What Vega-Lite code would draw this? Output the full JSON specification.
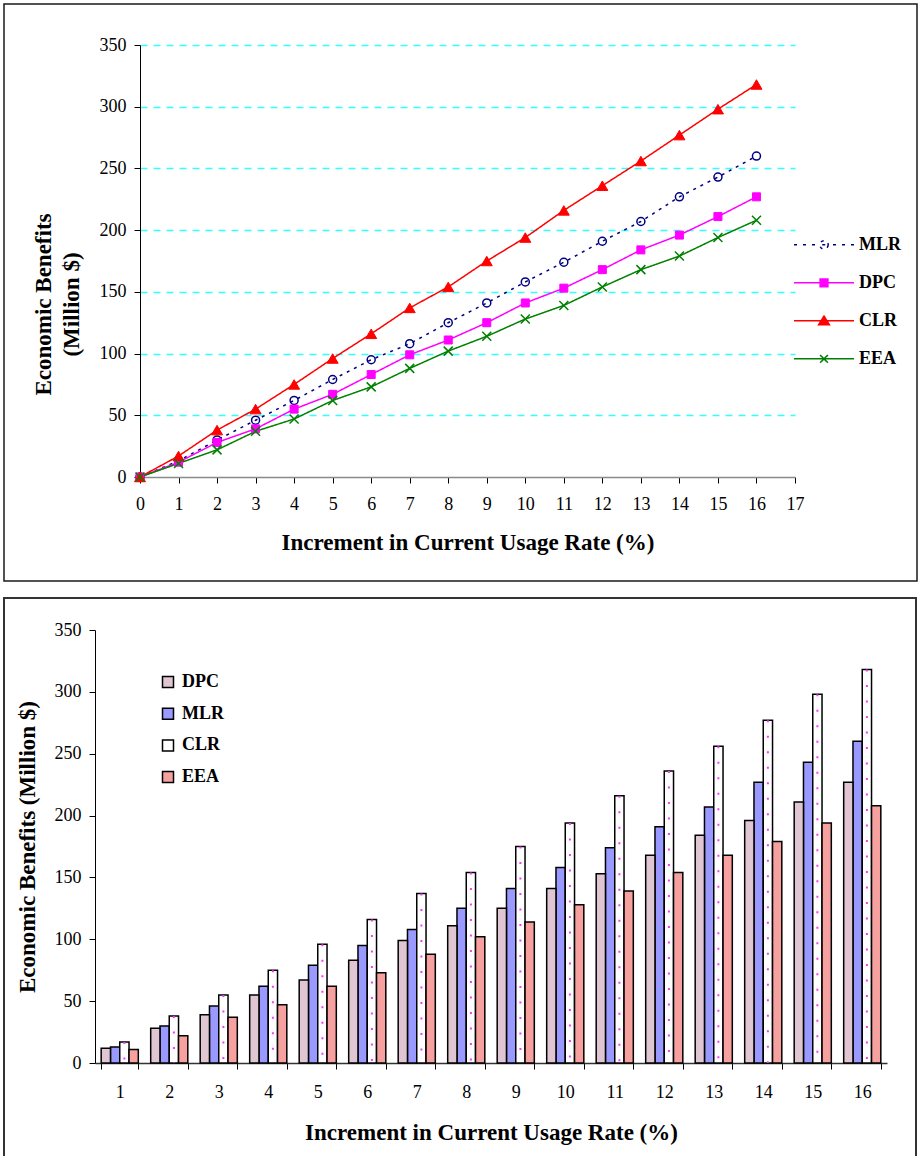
{
  "$schema": "https://vega.github.io/schema/vega-lite/v6.json",
  "padding": {"left": 3, "top": 3, "right": 0, "bottom": 0},
  "autosize": {"type": "pad"},
  "spacing": 15,
  "background": "white",
  "config": {
    "font": "Liberation Serif",
    "axis": {
      "labelFont": "Liberation Serif", "titleFont": "Liberation Serif",
      "labelFontSize": 18, "labelColor": "black", "titleColor": "black",
      "titleFontSize": 23, "titleFontWeight": "bold",
      "tickColor": "black", "domainColor": "black", "tickSize": 6, "labelPadding": 8
    },
    "legend": {"labelFont": "Liberation Serif", "labelFontSize": 18, "labelFontWeight": "bold", "labelColor": "black"}
  },
  "datasets": {
    "benefits": [
      {"x":0,"model":"MLR","value":0},{"x":1,"model":"MLR","value":13},{"x":2,"model":"MLR","value":30},{"x":3,"model":"MLR","value":46},{"x":4,"model":"MLR","value":62},{"x":5,"model":"MLR","value":79},{"x":6,"model":"MLR","value":95},{"x":7,"model":"MLR","value":108},{"x":8,"model":"MLR","value":125},{"x":9,"model":"MLR","value":141},{"x":10,"model":"MLR","value":158},{"x":11,"model":"MLR","value":174},{"x":12,"model":"MLR","value":191},{"x":13,"model":"MLR","value":207},{"x":14,"model":"MLR","value":227},{"x":15,"model":"MLR","value":243},{"x":16,"model":"MLR","value":260},
      {"x":0,"model":"DPC","value":0},{"x":1,"model":"DPC","value":12},{"x":2,"model":"DPC","value":28},{"x":3,"model":"DPC","value":39},{"x":4,"model":"DPC","value":55},{"x":5,"model":"DPC","value":67},{"x":6,"model":"DPC","value":83},{"x":7,"model":"DPC","value":99},{"x":8,"model":"DPC","value":111},{"x":9,"model":"DPC","value":125},{"x":10,"model":"DPC","value":141},{"x":11,"model":"DPC","value":153},{"x":12,"model":"DPC","value":168},{"x":13,"model":"DPC","value":184},{"x":14,"model":"DPC","value":196},{"x":15,"model":"DPC","value":211},{"x":16,"model":"DPC","value":227},
      {"x":0,"model":"CLR","value":0},{"x":1,"model":"CLR","value":17},{"x":2,"model":"CLR","value":38},{"x":3,"model":"CLR","value":55},{"x":4,"model":"CLR","value":75},{"x":5,"model":"CLR","value":96},{"x":6,"model":"CLR","value":116},{"x":7,"model":"CLR","value":137},{"x":8,"model":"CLR","value":154},{"x":9,"model":"CLR","value":175},{"x":10,"model":"CLR","value":194},{"x":11,"model":"CLR","value":216},{"x":12,"model":"CLR","value":236},{"x":13,"model":"CLR","value":256},{"x":14,"model":"CLR","value":277},{"x":15,"model":"CLR","value":298},{"x":16,"model":"CLR","value":318},
      {"x":0,"model":"EEA","value":0},{"x":1,"model":"EEA","value":11},{"x":2,"model":"EEA","value":22},{"x":3,"model":"EEA","value":37},{"x":4,"model":"EEA","value":47},{"x":5,"model":"EEA","value":62},{"x":6,"model":"EEA","value":73},{"x":7,"model":"EEA","value":88},{"x":8,"model":"EEA","value":102},{"x":9,"model":"EEA","value":114},{"x":10,"model":"EEA","value":128},{"x":11,"model":"EEA","value":139},{"x":12,"model":"EEA","value":154},{"x":13,"model":"EEA","value":168},{"x":14,"model":"EEA","value":179},{"x":15,"model":"EEA","value":194},{"x":16,"model":"EEA","value":208}
    ]
  },
  "resolve": {
    "scale": {"color": "independent", "fill": "independent", "strokeDash": "independent", "x": "independent", "y": "independent"},
    "legend": {"color": "independent", "fill": "independent"}
  },
  "vconcat": [
    {
      "width": 913,
      "height": 577,
      "view": {"stroke": "#1a1a1a", "strokeWidth": 1.5},
      "data": {"name": "benefits"},
      "encoding": {
        "x": {
          "field": "x", "type": "quantitative",
          "scale": {"domain": [0, 17], "range": [136, 791], "nice": false, "zero": false},
          "axis": {
            "values": [0,1,2,3,4,5,6,7,8,9,10,11,12,13,14,15,16,17],
            "format": "d",
            "title": "Increment in Current Usage Rate (%)",
            "offset": -104,
            "grid": false,
            "domainColor": "#8a8a8a", "domainWidth": 1.5,
            "tickSize": 6, "labelPadding": 12,
            "labelFlush": false, "labelOverlap": false,
            "titleX": 463.5, "titleY": 72, "titleBaseline": "alphabetic"
          }
        },
        "y": {
          "field": "value", "type": "quantitative",
          "scale": {"domain": [0, 350], "range": [473, 41], "nice": false},
          "axis": {
            "values": [0,50,100,150,200,250,300,350],
            "title": ["Economic Benefits", "(Million $)"],
            "offset": -136,
            "grid": true, "gridColor": "#33ffff", "gridDash": [7, 6], "gridWidth": 1.5,
            "gridOpacity": {"condition": {"test": "datum.value === 0", "value": 0}, "value": 1},
            "domainColor": "black", "domainWidth": 1,
            "tickSize": 6, "labelPadding": 8,
            "titleX": -97, "titleY": 300, "titleBaseline": "middle", "titleAlign": "center", "titleLineHeight": 28
          }
        }
      },
      "layer": [
        {
          "mark": {"type": "line", "strokeWidth": 1.5},
          "encoding": {
            "color": {
              "field": "model", "type": "nominal",
              "scale": {"domain": ["MLR", "DPC", "CLR", "EEA"], "range": ["#000080", "#ff00ff", "#ff0000", "#008000"]},
              "legend": {
                "title": null, "orient": "none", "legendX": 789, "legendY": 222, "direction": "vertical",
                "symbolSize": 3600, "symbolStrokeWidth": 1.5, "rowPadding": 0, "clipHeight": 37.7, "labelOffset": 4, "padding": 0,
                "encode": {
                  "symbols": {
                    "update": {
                      "size": {"value": 3600},
                      "shape": {"signal": "datum.value === 'MLR' ? 'M-1,0L-0.9,0M-0.7,0L-0.6,0M-0.4,0L-0.3,0M-0.06,0L0.06,0M0.3,0L0.4,0M0.6,0L0.7,0M0.9,0L1,0M0.14,0A0.14,0.14,0,1,1,-0.14,0A0.14,0.14,0,1,1,0.14,0' : datum.value === 'DPC' ? 'M-1,0L1,0M-0.13,-0.13L0.13,-0.13L0.13,0.13L-0.13,0.13Z' : datum.value === 'CLR' ? 'M-1,0L1,0M0,-0.16L0.18,0.13L-0.18,0.13Z' : 'M-1,0L1,0M-0.13,-0.13L0.13,0.13M-0.13,0.13L0.13,-0.13'"},
                      "fill": {"signal": "datum.value === 'DPC' ? '#ff00ff' : datum.value === 'CLR' ? '#ff0000' : 'transparent'"},
                      "stroke": {"signal": "datum.value === 'MLR' ? '#000080' : datum.value === 'DPC' ? '#ff00ff' : datum.value === 'CLR' ? '#ff0000' : '#008000'"},
                      "strokeDash": {"value": [1, 0]},
                      "strokeWidth": {"value": 1.5},
                      "opacity": {"value": 1}
                    }
                  }
                }
              }
            },
            "strokeDash": {
              "field": "model", "type": "nominal",
              "scale": {"domain": ["MLR", "DPC", "CLR", "EEA"], "range": [[3, 5], [1, 0], [1, 0], [1, 0]]},
              "legend": null
            }
          }
        },
        {
          "transform": [{"filter": "datum.model === 'MLR'"}],
          "mark": {"type": "point", "shape": "M0.8,0A0.8,0.8,0,1,1,-0.8,0A0.8,0.8,0,1,1,0.8,0", "size": 100, "filled": false, "fill": "transparent", "stroke": "#000080", "strokeWidth": 1.5, "opacity": 1}
        },
        {
          "transform": [{"filter": "datum.model === 'DPC'"}],
          "mark": {"type": "point", "shape": "M-0.8,-0.8L0.8,-0.8L0.8,0.8L-0.8,0.8Z", "size": 100, "filled": true, "fill": "#ff00ff", "stroke": "#ff00ff", "strokeWidth": 1, "opacity": 1}
        },
        {
          "transform": [{"filter": "datum.model === 'CLR'"}],
          "mark": {"type": "point", "shape": "M0,-0.95L1.1,0.95L-1.1,0.95Z", "size": 100, "filled": true, "fill": "#ff0000", "stroke": "#ff0000", "strokeWidth": 1, "opacity": 1}
        },
        {
          "transform": [{"filter": "datum.model === 'EEA'"}],
          "mark": {"type": "point", "shape": "M-0.9,-0.9L0.9,0.9M-0.9,0.9L0.9,-0.9", "size": 100, "filled": false, "fill": "transparent", "stroke": "#008000", "strokeWidth": 1.5, "opacity": 1}
        }
      ]
    },
    {
      "width": 912,
      "height": 559,
      "view": {"stroke": "#333333", "strokeWidth": 2},
      "data": {"name": "benefits"},
      "transform": [{"filter": "datum.x > 0"}],
      "encoding": {
        "x": {
          "field": "x", "type": "ordinal",
          "scale": {"range": [91, 883], "paddingInner": 0.25, "paddingOuter": 0.125},
          "axis": {
            "title": "Increment in Current Usage Rate (%)",
            "offset": -94, "labelAngle": 0, "tickBand": "extent",
            "tickSize": 6, "labelPadding": 14,
            "domainColor": "#333333", "domainWidth": 1.5,
            "titleX": 487, "titleY": 76, "titleBaseline": "alphabetic"
          }
        },
        "xOffset": {
          "field": "model", "type": "nominal",
          "scale": {"domain": ["DPC", "MLR", "CLR", "EEA"], "paddingInner": 0, "paddingOuter": 0}
        },
        "y": {
          "field": "value", "type": "quantitative",
          "scale": {"domain": [0, 350], "range": [465, 32], "nice": false},
          "axis": {
            "values": [0,50,100,150,200,250,300,350],
            "title": "Economic Benefits (Million $)",
            "offset": -91, "grid": false,
            "tickSize": 6, "labelPadding": 8,
            "titleX": -68, "titleY": 248.5, "titleBaseline": "middle", "titleAlign": "center"
          }
        }
      },
      "layer": [
        {
          "mark": {"type": "bar", "stroke": "black", "strokeWidth": 1.5},
          "encoding": {
            "fill": {
              "field": "model", "type": "nominal",
              "scale": {"domain": ["DPC", "MLR", "CLR", "EEA"], "range": ["#dfc6d2", "#9999ff", "#ffffff", "#f7a0a0"]},
              "legend": {
                "title": null, "orient": "none", "legendX": 155, "legendY": 75, "direction": "vertical",
                "symbolType": "square", "symbolSize": 121, "symbolStrokeColor": "black", "symbolStrokeWidth": 1.5,
                "symbolOpacity": 1,
                "rowPadding": 13.7, "labelOffset": 5, "padding": 0
              }
            }
          }
        },
        {
          "transform": [{"filter": "datum.model === 'CLR'"}],
          "mark": {"type": "rule", "color": "#ff33ff", "strokeWidth": 2, "strokeDash": [2, 13.5]},
          "encoding": {
            "y2": {"datum": 0}
          }
        }
      ]
    }
  ]
}
